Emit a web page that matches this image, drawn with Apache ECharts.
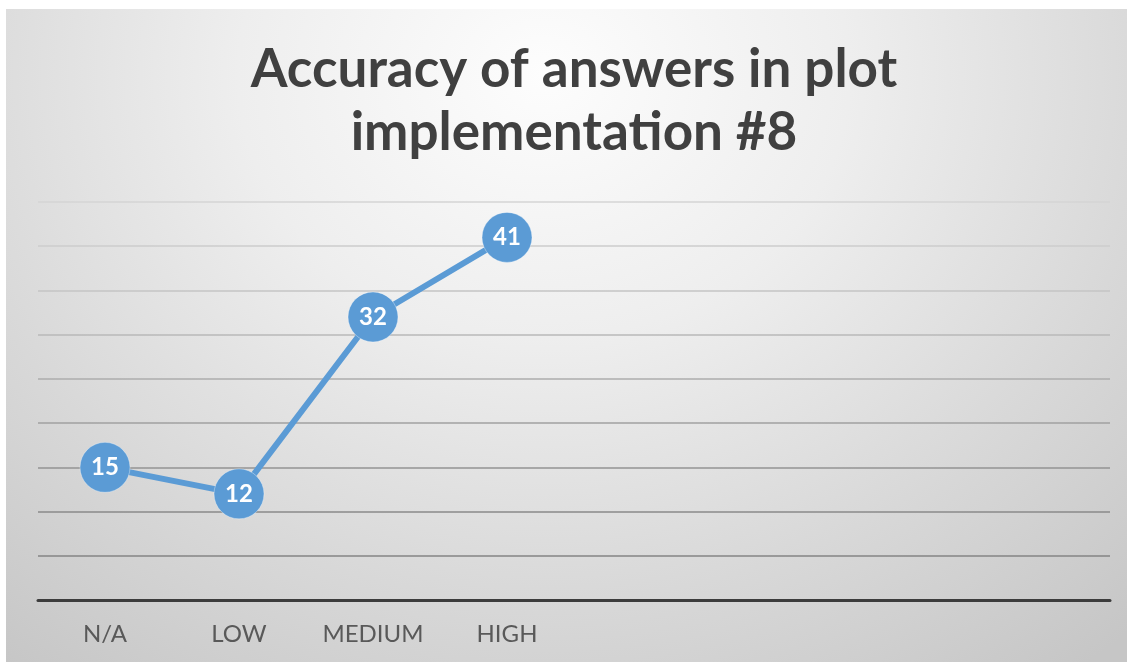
<!DOCTYPE html>
<html>
<head>
<meta charset="utf-8">
<script src="https://cdn.jsdelivr.net/npm/echarts@6/dist/echarts.min.js"></script>
<style>
  html, body { margin: 0; padding: 0; background: #ffffff; }
  #bg { position: absolute; left: 6px; top: 9px; width: 1121px; height: 653px;
        background: radial-gradient(ellipse 78% 115% at 48% 10%, #fdfdfd 0%, #eeeeee 35%, #d8d8d8 70%, #c6c6c6 100%); }
  #chart { position: absolute; left: 0; top: 0; width: 1127px; height: 662px; }
</style>
</head>
<body>
<div id="bg"></div>
<div id="chart"></div>
<script>
const titleText = 'Accuracy of answers in plot\nimplementation #8';
const categories = ['N/A', 'LOW', 'MEDIUM', 'HIGH', '', '', '', ''];
const accuracyValues = [15, 12, 32, 41];
const yMin = 0, yMax = 45, yInterval = 5;

const chart = echarts.init(document.getElementById('chart'), null, { renderer: 'canvas' });
chart.setOption({
  backgroundColor: 'transparent',
  animation: false,
  title: {
    text: titleText,
    left: 569,
    top: 33,
    textAlign: 'center',
    textStyle: {
      fontFamily: 'Lato',
      fontWeight: 'bold',
      fontSize: 53,
      lineHeight: 63,
      color: '#404040'
    }
  },
  grid: { left: 38, right: 17, top: 202, bottom: 62, containLabel: false },
  xAxis: {
    type: 'category',
    data: categories,
    boundaryGap: true,
    axisLine: { show: true, lineStyle: { color: '#3c3c3c', width: 3 } },
    axisTick: { show: false },
    axisLabel: { color: '#595959', fontFamily: 'Lato', fontSize: 24, margin: 22 },
    splitLine: { show: false }
  },
  yAxis: {
    type: 'value',
    min: yMin, max: yMax, interval: yInterval,
    axisLine: { show: false },
    axisTick: { show: false },
    axisLabel: { show: false },
    splitLine: {
      show: true,
      lineStyle: {
        width: 1.5,
        color: ['#888888', '#858585', '#8a8a8a', '#939393', '#a0a0a0', '#acacac', '#b8b8b8', '#c4c4c4', '#cdcdcd', '#d4d4d4']
      }
    }
  },
  series: [{
    type: 'line',
    data: accuracyValues,
    symbol: 'circle',
    symbolSize: 50,
    lineStyle: { color: '#5B9BD5', width: 6 },
    itemStyle: { color: '#5B9BD5', borderColor: 'rgba(255,255,255,0.35)', borderWidth: 1 },
    label: {
      show: true,
      position: 'inside',
      color: '#ffffff',
      fontFamily: 'Lato',
      fontWeight: 'bold',
      fontSize: 24
    },
    z: 3
  }]
});
</script>
</body>
</html>
